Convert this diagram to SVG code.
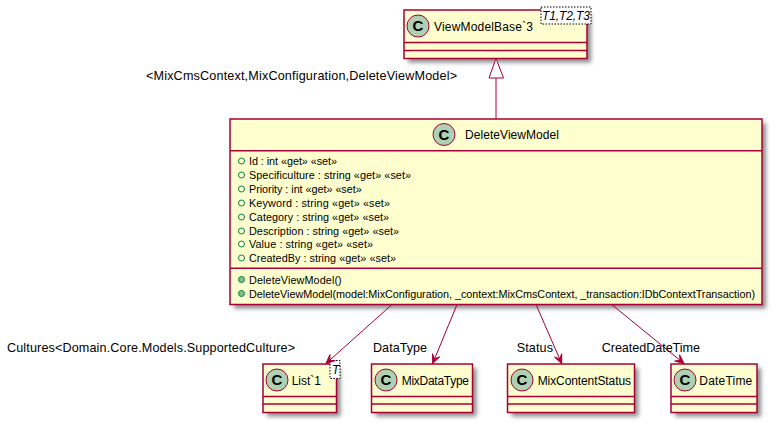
<svg xmlns="http://www.w3.org/2000/svg" width="775" height="425" viewBox="0 0 775 425">
<style>
text{font-family:"Liberation Sans",Arial,sans-serif;fill:#000}
.box{fill:#FEFECE;stroke:#A80036;stroke-width:1.5}
.sh{fill:#000;fill-opacity:.45;filter:url(#blur)}
.div{stroke:#A80036;stroke-width:1.5;fill:none}
.circ{fill:#ADD1B2;stroke:#A80036;stroke-width:1}
.c{font-size:15px;font-weight:bold;text-anchor:middle}
.name{font-size:12px}
.lab{font-size:12.6px}
.ital{font-size:12px;font-style:italic}
.mem{font-size:10.8px}
.pub{fill:none;stroke:#038048;stroke-width:1}
.pubm{fill:#84BE84;stroke:#038048;stroke-width:1}
.tpl{fill:#fff;stroke:#000;stroke-width:1;stroke-dasharray:1.5 1.5}
.edge{stroke:#A80036;stroke-width:1;fill:none}
.arr{marker-end:url(#head)}
</style>
<defs>
<filter id="blur" x="-15%" y="-25%" width="130%" height="150%"><feGaussianBlur stdDeviation="2"/></filter>
<marker id="head" markerUnits="userSpaceOnUse" markerWidth="12" markerHeight="12" refX="10" refY="6" orient="auto" viewBox="0 0 12 12"><path d="M10,6 L1,2 L5,6 L1,10 Z" fill="#A80036" stroke="#A80036"/></marker>
</defs>
<g id="ViewModelBase">
<rect class="sh" x="408" y="14" width="183" height="48.5"/>
<rect class="box" x="404" y="10" width="183" height="48.5"/>
<path class="div" d="M404 42.5H587M404 50.5H587"/>
<circle class="circ" cx="418" cy="26" r="11"/><text class="c" x="418" y="31">C</text>
<text class="name" x="434" y="31" textLength="99">ViewModelBase`3</text>
<rect class="tpl" x="541" y="7" width="50" height="17"/>
<text class="ital" x="542" y="20" textLength="48">T1,T2,T3</text>
</g>
<g id="DeleteViewModel">
<rect class="sh" x="234" y="123" width="532" height="185.5"/>
<rect class="box" x="230" y="119" width="532" height="185.5"/>
<path class="div" d="M230 150.7H762M230 268.3H762"/>
<circle class="circ" cx="444" cy="134.5" r="11"/><text class="c" x="444" y="139.5">C</text>
<text class="name" x="465" y="139" textLength="94">DeleteViewModel</text>
<g class="pub">
<circle cx="241.5" cy="161" r="3"/><circle cx="241.5" cy="175" r="3"/><circle cx="241.5" cy="189" r="3"/><circle cx="241.5" cy="203" r="3"/><circle cx="241.5" cy="217" r="3"/><circle cx="241.5" cy="231" r="3"/><circle cx="241.5" cy="244" r="3"/><circle cx="241.5" cy="258" r="3"/>
</g>
<text class="mem" x="249" y="165" textLength="88">Id : int «get» «set»</text>
<text class="mem" x="249" y="179" textLength="162">Specificulture : string «get» «set»</text>
<text class="mem" x="249" y="193" textLength="112.700">Priority : int «get» «set»</text>
<text class="mem" x="249" y="207" textLength="141">Keyword : string «get» «set»</text>
<text class="mem" x="249" y="221" textLength="140">Category : string «get» «set»</text>
<text class="mem" x="249" y="235" textLength="150">Description : string «get» «set»</text>
<text class="mem" x="249" y="248" textLength="124">Value : string «get» «set»</text>
<text class="mem" x="249" y="262" textLength="147">CreatedBy : string «get» «set»</text>
<g class="pubm"><circle cx="241.500" cy="279.500" r="3"/><circle cx="241.500" cy="293.500" r="3"/></g>
<text class="mem" x="249" y="284" textLength="92.700">DeleteViewModel()</text>
<text class="mem" x="249" y="298" textLength="506">DeleteViewModel(model:MixConfiguration, _context:MixCmsContext, _transaction:IDbContextTransaction)</text>
</g>
<g id="List1">
<rect class="sh" x="267" y="368" width="73.500" height="48.500"/>
<rect class="box" x="263" y="364" width="73.500" height="48.500"/>
<path class="div" d="M263 396.500H336.500M263 404H336.500"/>
<circle class="circ" cx="277" cy="380" r="11"/><text class="c" x="277" y="385">C</text>
<text class="name" x="291.700" y="385">List`1</text>
<rect class="tpl" x="330" y="360.500" width="10" height="18"/>
<text class="ital" x="332" y="374">T</text>
</g>
<g id="MixDataType">
<rect class="sh" x="375.500" y="368" width="101" height="48.500"/>
<rect class="box" x="371.500" y="364" width="101" height="48.500"/>
<path class="div" d="M371.500 396.500H472.500M371.500 404H472.500"/>
<circle class="circ" cx="386" cy="380" r="11"/><text class="c" x="386" y="385">C</text>
<text class="name" x="401.700" y="385" textLength="67.300">MixDataType</text>
</g>
<g id="MixContentStatus">
<rect class="sh" x="511.500" y="368" width="127" height="48.500"/>
<rect class="box" x="507.500" y="364" width="127" height="48.500"/>
<path class="div" d="M507.500 396.500H634.500M507.500 404H634.500"/>
<circle class="circ" cx="522" cy="380" r="11"/><text class="c" x="522" y="385">C</text>
<text class="name" x="537.700" y="385" textLength="93.300">MixContentStatus</text>
</g>
<g id="DateTime">
<rect class="sh" x="675" y="368" width="86" height="48.500"/>
<rect class="box" x="671" y="364" width="86" height="48.500"/>
<path class="div" d="M671 396.500H757M671 404H757"/>
<circle class="circ" cx="685" cy="380" r="11"/><text class="c" x="685" y="385">C</text>
<text class="name" x="699.300" y="385" textLength="53">DateTime</text>
</g>
<g id="connectors">
<path class="edge" d="M496 78V119"/>
<polygon points="496,58.500 489,78 503.500,78" fill="#fff" stroke="#A80036"/>
<path class="edge arr" d="M392 304.500L326 363.500"/>
<path class="edge arr" d="M457 304.500L432.700 363.500"/>
<path class="edge arr" d="M536 304.500L561.700 363.500"/>
<path class="edge arr" d="M611.700 304.500L684 363.500"/>
<text class="lab" x="146" y="80" textLength="311">&lt;MixCmsContext,MixConfiguration,DeleteViewModel&gt;</text>
<text class="lab" x="7" y="352" textLength="288">Cultures&lt;Domain.Core.Models.SupportedCulture&gt;</text>
<text class="lab" x="373" y="352" textLength="54">DataType</text>
<text class="lab" x="516.700" y="352" textLength="36.300">Status</text>
<text class="lab" x="601.700" y="352" textLength="98.300">CreatedDateTime</text>
</g>
</svg>
